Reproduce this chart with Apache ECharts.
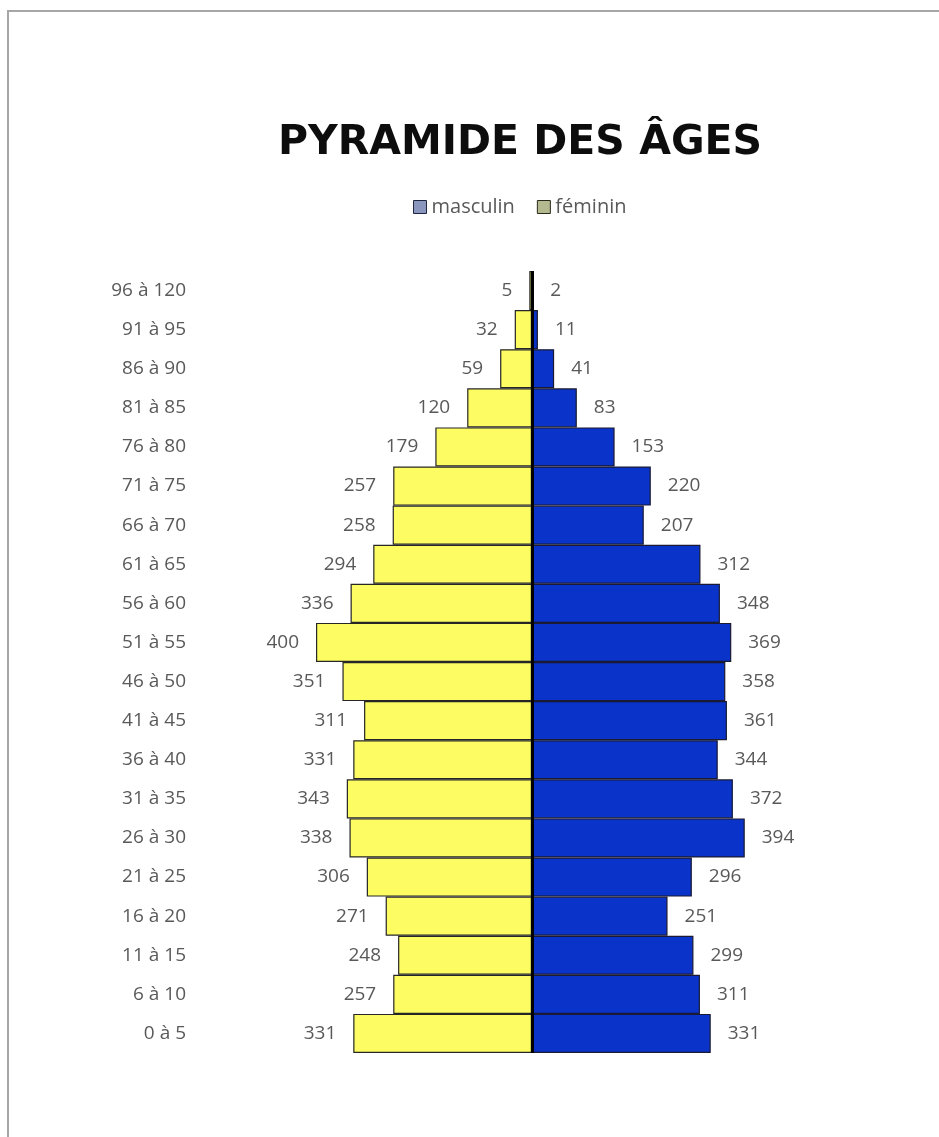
<!DOCTYPE html>
<html>
<head>
<meta charset="utf-8">
<script src="https://cdn.jsdelivr.net/npm/echarts@6/dist/echarts.min.js"></script>
<style>
  html, body { margin: 0; padding: 0; background: #fff; }
  #wrap { position: relative; width: 939px; height: 1137px; overflow: hidden; }
  #pyramid { position: absolute; left: 0; top: 0; width: 939px; height: 1137px; }
  #frame { position: absolute; left: 7px; top: 10px; width: 1000px; height: 1200px;
           border-top: 2px solid #a6a6a6; border-left: 2px solid #a6a6a6; pointer-events: none; }
</style>
</head>
<body>
<div id="wrap">
  <div id="pyramid"></div>
  <div id="frame"></div>
</div>
<script>
// age groups, top to bottom as in the picture
const ageGroups = ["96 à 120", "91 à 95", "86 à 90", "81 à 85", "76 à 80", "71 à 75", "66 à 70",
  "61 à 65", "56 à 60", "51 à 55", "46 à 50", "41 à 45", "36 à 40", "31 à 35", "26 à 30",
  "21 à 25", "16 à 20", "11 à 15", "6 à 10", "0 à 5"];
const masculin = [2, 11, 41, 83, 153, 220, 207, 312, 348, 369, 358, 361, 344, 372, 394, 296, 251, 299, 311, 331];
const feminin = [5, 32, 59, 120, 179, 257, 258, 294, 336, 400, 351, 311, 331, 343, 338, 306, 271, 248, 257, 331];

const font = "'Open Sans', 'Noto Sans', sans-serif";
const chart = echarts.init(document.getElementById("pyramid"));

const option = {
  animation: false,
  title: {
    text: "PYRAMIDE DES ÂGES",
    left: 515,
    top: 118,
    textAlign: "center",
    textStyle: { fontFamily: "'DejaVu Sans', sans-serif", fontSize: 41, fontWeight: "bold", color: "#0d0d0d" },
  },
  legend: {
    left: 408,
    top: 192,
    itemWidth: 13,
    itemHeight: 13,
    itemGap: 22,
    textStyle: { fontFamily: font, fontSize: 20, color: "#595959" },
    data: [
      { name: "masculin", icon: "rect", itemStyle: { color: "#8a96bd", borderColor: "#1f2540", borderWidth: 1 } },
      { name: "féminin", icon: "rect", itemStyle: { color: "#b5b98f", borderColor: "#2a2a1a", borderWidth: 1 } },
    ],
  },
  grid: { left: 262, right: 137, top: 271, bottom: 84 },
  xAxis: {
    type: "value",
    min: -500,
    max: 500,
    interval: 100,
    show: false,
  },
  yAxis: {
    type: "category",
    data: ageGroups,
    inverse: true,
    axisLine: { show: false },
    axisTick: { show: false },
    axisLabel: { fontFamily: font, fontSize: 19, color: "#595959", margin: 76 },
  },
  series: [
    {
      name: "féminin",
      type: "bar",
      barGap: "-100%",
      barCategoryGap: 0,
      data: feminin.map((v) => -v),
      itemStyle: { color: "#fdfc62", borderColor: "#262626", borderWidth: 1.2 },
      label: {
        show: true,
        position: "left",
        distance: 17,
        fontFamily: font,
        fontSize: 19,
        color: "#595959",
        formatter: ({ value }) => Math.abs(value),
      },
    },
    {
      name: "masculin",
      type: "bar",
      barGap: "-100%",
      barCategoryGap: 0,
      data: masculin,
      itemStyle: { color: "#0a33c9", borderColor: "#1a1a33", borderWidth: 1.2 },
      label: {
        show: true,
        position: "right",
        distance: 17,
        fontFamily: font,
        fontSize: 19,
        color: "#595959",
      },
      markLine: {
        silent: true,
        symbol: ["none", "none"],
        label: { show: false },
        lineStyle: { color: "#000", width: 3, type: "solid" },
        data: [{ xAxis: 0 }],
      },
    },
  ],
};

chart.setOption(option);
</script>
</body>
</html>
